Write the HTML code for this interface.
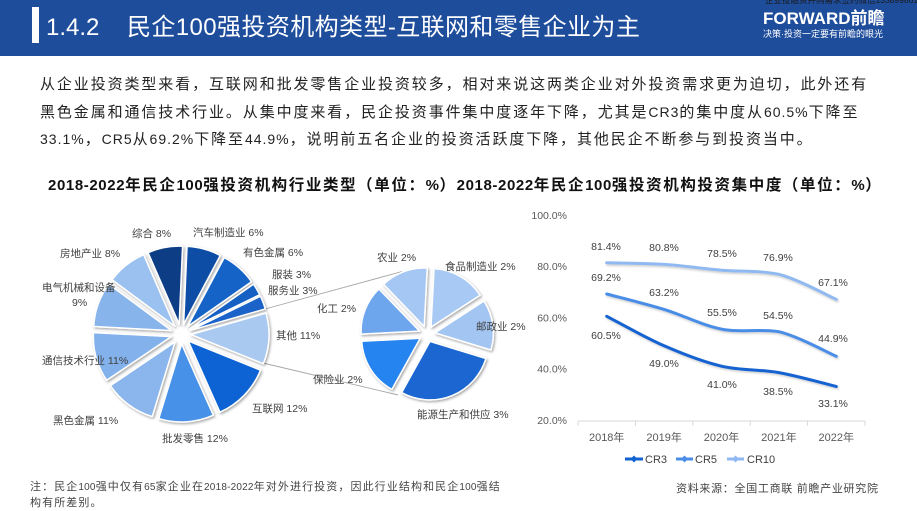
<!DOCTYPE html>
<html><head><meta charset="utf-8">
<style>
*{margin:0;padding:0;box-sizing:border-box}
html,body{width:917px;height:511px;overflow:hidden;background:#fff;font-family:"Liberation Sans","Noto Sans CJK SC",sans-serif;position:relative}
.hdr{position:absolute;left:0;top:0;width:917px;height:56px;background:#1e4d9c}
.bar{position:absolute;left:32px;top:7px;width:7px;height:36px;background:#fff}
.ttl{position:absolute;left:46px;top:12px;color:#fff;font-size:24px;line-height:32px;white-space:nowrap}
.logo{position:absolute;left:763px;top:8px;color:#fff;font-size:17px;font-weight:bold;line-height:22px;white-space:nowrap}
.slog{position:absolute;left:763px;top:28px;color:#fff;font-size:9px;line-height:12px;white-space:nowrap}
.tiny{position:absolute;left:765px;top:-5px;color:#1a1a1a;font-size:8.5px;line-height:10px;white-space:nowrap}
.p{position:absolute;left:40px;font-size:15px;line-height:20px;letter-spacing:1.9px;color:#222;white-space:nowrap}
.p .l{font-size:14px;letter-spacing:1px}
.t{position:absolute;left:48px;top:176px;font-size:15.5px;font-weight:bold;line-height:20px;letter-spacing:1.6px;color:#111;white-space:nowrap}
.t .l{font-size:15px;letter-spacing:0.6px}
.f{position:absolute;left:30px;font-size:11px;line-height:14px;letter-spacing:1.1px;color:#444;white-space:nowrap}
.f .l{font-size:10px;letter-spacing:0.2px}
.src{position:absolute;left:676px;top:482px;font-size:11px;line-height:14px;letter-spacing:0.7px;color:#444;white-space:nowrap}
svg{position:absolute;left:0;top:0}
</style></head><body>
<div class="hdr"></div>
<div class="bar"></div>
<div class="tiny">企业投融资并购需求签约微信13389986113</div>
<div class="ttl">1.4.2<span style="position:absolute;left:81px;top:0;letter-spacing:0.4px">民企100强投资机构类型-互联网和零售企业为主</span></div>
<div class="logo">FORWARD前瞻</div>
<div class="slog">决策·投资一定要有前瞻的眼光</div>

<div class="p" style="top:75px">从企业投资类型来看，互联网和批发零售企业投资较多，相对来说这两类企业对外投资需求更为迫切，此外还有</div>
<div class="p" style="top:102px">黑色金属和通信技术行业。从集中度来看，民企投资事件集中度逐年下降，尤其是<span class="l">CR3</span>的集中度从<span class="l">60.5%</span>下降至</div>
<div class="p" style="top:129px"><span class="l">33.1%</span>，<span class="l">CR5</span>从<span class="l">69.2%</span>下降至<span class="l">44.9%</span>，说明前五名企业的投资活跃度下降，其他民企不断参与到投资当中。</div>

<div class="t"><span class="l">2018-2022</span>年民企<span class="l">100</span>强投资机构行业类型（单位：<span class="l">%</span>）<span class="l">2018-2022</span>年民企<span class="l">100</span>强投资机构投资集中度（单位：<span class="l">%</span>）</div>

<svg width="917" height="511" viewBox="0 0 917 511" xmlns="http://www.w3.org/2000/svg" font-family="Liberation Sans, Noto Sans CJK SC, sans-serif">
<defs>
<filter id="sh" x="-20%" y="-20%" width="140%" height="140%">
<feDropShadow dx="1.2" dy="1.4" stdDeviation="1.3" flood-color="#000" flood-opacity="0.35"/>
</filter>
<filter id="lsh" x="-10%" y="-20%" width="120%" height="140%">
<feDropShadow dx="1" dy="1.5" stdDeviation="1" flood-color="#000" flood-opacity="0.2"/>
</filter>
</defs>

<line x1="265" y1="309" x2="402" y2="271.5" stroke="#a6a6a6" stroke-width="0.9"/>
<line x1="263" y1="363" x2="398" y2="395" stroke="#a6a6a6" stroke-width="0.9"/>

<g filter="url(#sh)" stroke="#fff" stroke-width="1.5" stroke-linejoin="round">
<path d="M183.63,324.35 L187.03,246.43 A78,78 0 0 1 220.25,255.48 Z" fill="#0f4ea6"/>
<path d="M187.63,326.51 L224.25,257.64 A78,78 0 0 1 251.53,281.77 Z" fill="#1464c8"/>
<path d="M189.62,328.93 L253.52,284.19 A78,78 0 0 1 259.73,294.73 Z" fill="#1560c4"/>
<path d="M190.34,330.42 L260.45,296.22 A78,78 0 0 1 265.32,308.92 Z" fill="#1b63c9"/>
<path d="M190.99,334.52 L265.97,313.02 A78,78 0 0 1 263.31,363.74 Z" fill="#a9c9f1"/>
<path d="M188.19,340.95 L260.51,370.17 A78,78 0 0 1 219.91,412.20 Z" fill="#0a63d3"/>
<path d="M181.61,343.98 L213.33,415.23 A78,78 0 0 1 158.80,418.57 Z" fill="#4691e8"/>
<path d="M175.05,342.04 L152.24,416.63 A78,78 0 0 1 110.39,385.66 Z" fill="#8ab6ed"/>
<path d="M171.36,336.67 L106.70,380.29 A78,78 0 0 1 93.47,332.59 Z" fill="#83b1ec"/>
<path d="M171.59,330.62 L93.70,326.54 A78,78 0 0 1 108.89,284.23 Z" fill="#88b4ec"/>
<path d="M174.78,326.17 L112.08,279.78 A78,78 0 0 1 143.68,254.64 Z" fill="#9ac1f0"/>
<path d="M179.18,324.17 L148.08,252.64 A78,78 0 0 1 182.58,246.25 Z" fill="#083c85"/>
</g>

<g filter="url(#sh)" stroke="#fff" stroke-width="1.5" stroke-linejoin="round">
<path d="M431,327.07 L434.06,268.65 A58.5,58.5 0 0 1 480.06,295.21 Z" fill="#a8c9f3"/>
<path d="M434.92,332.89 L483.98,301.03 A58.5,58.5 0 0 1 490.86,350.00 Z" fill="#a3c5f2"/>
<path d="M430,341.42 L485.94,358.53 A58.5,58.5 0 0 1 401.64,392.58 Z" fill="#1b66d2"/>
<path d="M420.22,338.24 L391.86,389.40 A58.5,58.5 0 0 1 361.80,341.30 Z" fill="#2584f1"/>
<path d="M419.56,331.07 L361.14,334.13 A58.5,58.5 0 0 1 378.92,288.99 Z" fill="#6ea6ee"/>
<path d="M424.20,326.51 L383.56,284.43 A58.5,58.5 0 0 1 427.26,268.09 Z" fill="#a5c7f3"/>
</g>

<g font-size="10.5" fill="#404040">
<text x="132" y="236.8">综合 8%</text>
<text x="193" y="235.8">汽车制造业 6%</text>
<text x="243" y="255.8">有色金属 6%</text>
<text x="272" y="277.8">服装 3%</text>
<text x="268" y="293.8">服务业 3%</text>
<text x="276" y="338.8">其他 11%</text>
<text x="252" y="411.8">互联网 12%</text>
<text x="162" y="441.8">批发零售 12%</text>
<text x="53" y="423.8">黑色金属 11%</text>
<text x="42" y="363.8">通信技术行业 11%</text>
<text x="42" y="290.8">电气机械和设备</text>
<text x="72" y="305.8">9%</text>
<text x="60" y="256.8">房地产业 8%</text>
<text x="377" y="260.8">农业 2%</text>
<text x="445" y="269.8">食品制造业 2%</text>
<text x="317" y="311.8">化工 2%</text>
<text x="476" y="329.8">邮政业 2%</text>
<text x="313" y="382.8">保险业 2%</text>
<text x="417" y="417.8">能源生产和供应 3%</text>
</g>

<g font-size="10.5" fill="#595959" text-anchor="end">
<text x="567" y="218.8">100.0%</text>
<text x="567" y="270">80.0%</text>
<text x="567" y="321.3">60.0%</text>
<text x="567" y="372.5">40.0%</text>
<text x="567" y="423.8">20.0%</text>
</g>
<g stroke="#d9d9d9" stroke-width="1">
<line x1="578" y1="421" x2="865" y2="421"/>
<line x1="578" y1="421" x2="578" y2="426"/>
<line x1="635.4" y1="421" x2="635.4" y2="426"/>
<line x1="692.8" y1="421" x2="692.8" y2="426"/>
<line x1="750.2" y1="421" x2="750.2" y2="426"/>
<line x1="807.6" y1="421" x2="807.6" y2="426"/>
<line x1="865" y1="421" x2="865" y2="426"/>
</g>
<g font-size="11" fill="#595959" text-anchor="middle">
<text x="606.7" y="441">2018年</text>
<text x="664.1" y="441">2019年</text>
<text x="721.5" y="441">2020年</text>
<text x="778.9" y="441">2021年</text>
<text x="836.3" y="441">2022年</text>
</g>

<g fill="none" stroke-width="3" stroke-linecap="round" filter="url(#lsh)">
<path stroke="#8fb9f0" d="M606.7,262.8 C616.3,263.07 644.97,263.17 664.1,264.4 C683.2,265.63 702.4,268.55 721.5,270.2 C740.6,271.85 759.8,270.4 778.9,274.3 C798,279.17 826.7,295.22 836.3,299.4"/>
<path stroke="#4a8de6" d="M606.7,294 C616.3,296.57 644.97,303.55 664.1,309.4 C683.2,315.25 702.4,325.38 721.5,329.1 C740.6,332.82 759.8,328.5 778.9,331.7 C798,336.23 826.7,352.2 836.3,356.3"/>
<path stroke="#1262d0" d="M606.7,316.3 C616.3,321.22 644.97,337.48 664.1,345.8 C683.2,354.12 702.4,361.73 721.5,366.2 C740.6,370.67 759.8,369.22 778.9,372.6 C798,375.98 826.7,384.18 836.3,386.5"/>
</g>

<g font-size="10.5" fill="#404040" text-anchor="middle">
<text x="606" y="249.8">81.4%</text>
<text x="664" y="250.8">80.8%</text>
<text x="722" y="256.8">78.5%</text>
<text x="778" y="260.8">76.9%</text>
<text x="833" y="285.8">67.1%</text>
<text x="606" y="280.8">69.2%</text>
<text x="664" y="295.8">63.2%</text>
<text x="722" y="315.8">55.5%</text>
<text x="778" y="318.8">54.5%</text>
<text x="833" y="341.8">44.9%</text>
<text x="606" y="338.8">60.5%</text>
<text x="664" y="366.8">49.0%</text>
<text x="722" y="387.8">41.0%</text>
<text x="778" y="394.8">38.5%</text>
<text x="833" y="406.8">33.1%</text>
</g>

<g stroke-width="3">
<line x1="625" y1="459" x2="643" y2="459" stroke="#1262d0"/>
<line x1="676" y1="459" x2="693" y2="459" stroke="#4a8de6"/>
<line x1="727" y1="459" x2="744" y2="459" stroke="#8fb9f0"/>
</g>
<path d="M634,455.5 L637.5,459 L634,462.5 L630.5,459 Z" fill="#1262d0"/>
<path d="M684.5,455.5 L688,459 L684.5,462.5 L681,459 Z" fill="#4a8de6"/>
<path d="M735.5,455.5 L739,459 L735.5,462.5 L732,459 Z" fill="#8fb9f0"/>
<g font-size="11" fill="#404040">
<text x="645" y="463">CR3</text>
<text x="695" y="463">CR5</text>
<text x="747" y="463">CR10</text>
</g>
</svg>

<div class="f" style="top:480px">注：民企<span class="l">100</span>强中仅有<span class="l">65</span>家企业在<span class="l">2018-2022</span>年对外进行投资，因此行业结构和民企<span class="l">100</span>强结</div>
<div class="f" style="top:496px">构有所差别。</div>
<div class="src">资料来源：全国工商联 前瞻产业研究院</div>
</body></html>
